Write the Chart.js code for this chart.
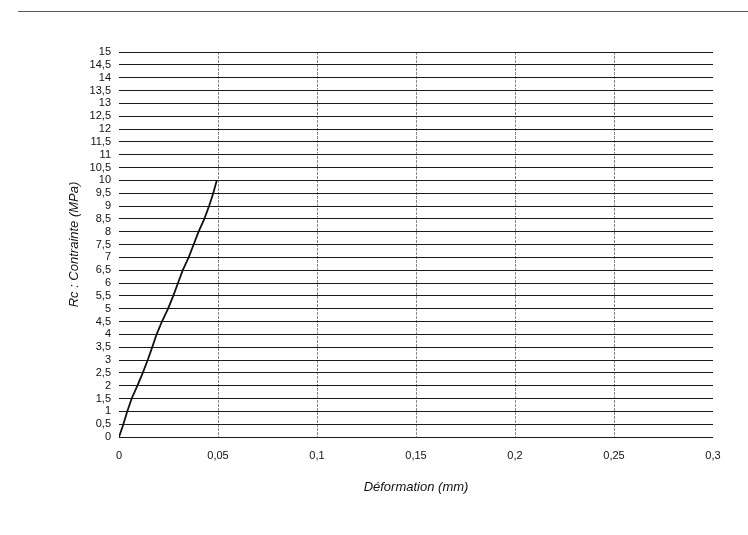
<!DOCTYPE html>
<html>
<head>
<meta charset="utf-8">
<script src="https://cdn.jsdelivr.net/npm/chart.js@4"></script>
<style>
html,body{margin:0;padding:0;background:#fff;}
#wrap{position:relative;width:748px;height:535px;}
#scanline{position:absolute;left:18px;right:0;top:11px;height:1px;background:#333;opacity:0.8;}
canvas{position:absolute;left:0;top:0;}
</style>
</head>
<body>
<div id="wrap">
<div id="scanline"></div>
<canvas id="c" width="748" height="535"></canvas>
</div>
<script>
// Data
const deformation = [0, 0.0022, 0.0042, 0.0064, 0.0093, 0.0120, 0.0145, 0.0168, 0.0190, 0.0217, 0.0248, 0.0274, 0.0298, 0.0322, 0.0352, 0.0377, 0.0402, 0.0431, 0.0455, 0.0476, 0.0494];
const contrainte  = [0, 0.5, 1, 1.5, 2, 2.5, 3, 3.5, 4, 4.5, 5, 5.5, 6, 6.5, 7, 7.5, 8, 8.5, 9, 9.5, 10];

const xTicks = [0, 0.05, 0.1, 0.15, 0.2, 0.25, 0.3];
const xTickLabels = ["0", "0,05", "0,1", "0,15", "0,2", "0,25", "0,3"];
const yTicks = [0,0.5,1,1.5,2,2.5,3,3.5,4,4.5,5,5.5,6,6.5,7,7.5,8,8.5,9,9.5,10,10.5,11,11.5,12,12.5,13,13.5,14,14.5,15];
const yTickLabels = ["0","0,5","1","1,5","2","2,5","3","3,5","4","4,5","5","5,5","6","6,5","7","7,5","8","8,5","9","9,5","10","10,5","11","11,5","12","12,5","13","13,5","14","14,5","15"];

const xTitle = "Déformation (mm)";
const yTitle = "Rc : Contrainte (MPa)";

const points = deformation.map((x, i) => ({x: x, y: contrainte[i]}));

new Chart(document.getElementById('c'), {
  type: 'line',
  data: {
    datasets: [{
      data: points,
      borderColor: '#111',
      borderWidth: 1.8,
      pointRadius: 0,
      tension: 0,
      fill: false
    }]
  },
  options: {
    responsive: false,
    animation: false,
    layout: { padding: { left: 66, right: 35, top: 52, bottom: 38 } },
    plugins: { legend: { display: false }, tooltip: { enabled: false } },
    scales: {
      x: {
        type: 'linear',
        min: 0, max: 0.3,
        afterBuildTicks: s => { s.ticks = xTicks.map(v => ({value: v})); },
        afterFit: s => { s.height = 60; },
        border: { display: false, dash: [3, 1] },
        grid: {
          drawTicks: false,
          color: ctx => (ctx.index === 0 || ctx.index === xTicks.length - 1) ? 'rgba(0,0,0,0)' : '#8a8a8a',
          lineWidth: 1
        },
        ticks: {
          padding: 12,
          color: '#111',
          font: { family: 'Liberation Sans', size: 11 },
          maxRotation: 0,
          autoSkip: false,
          callback: (v, i) => xTickLabels[i]
        },
        title: {
          display: true,
          text: xTitle,
          color: '#111',
          padding: { top: 0, bottom: 2 },
          font: { family: 'Liberation Sans', size: 13, style: 'italic' }
        }
      },
      y: {
        type: 'linear',
        min: 0, max: 15,
        afterBuildTicks: s => { s.ticks = yTicks.map(v => ({value: v})); },
        afterFit: s => { s.width = 53; },
        border: { display: false },
        grid: {
          drawTicks: false,
          color: '#1a1a1a',
          lineWidth: 1
        },
        ticks: {
          padding: 8,
          color: '#111',
          font: { family: 'Liberation Sans', size: 11 },
          autoSkip: false,
          callback: (v, i) => yTickLabels[i]
        },
        title: {
          display: true,
          text: yTitle,
          color: '#111',
          padding: { top: 1, bottom: 0 },
          font: { family: 'Liberation Sans', size: 13, style: 'italic' }
        }
      }
    }
  }
});
</script>
</body>
</html>
